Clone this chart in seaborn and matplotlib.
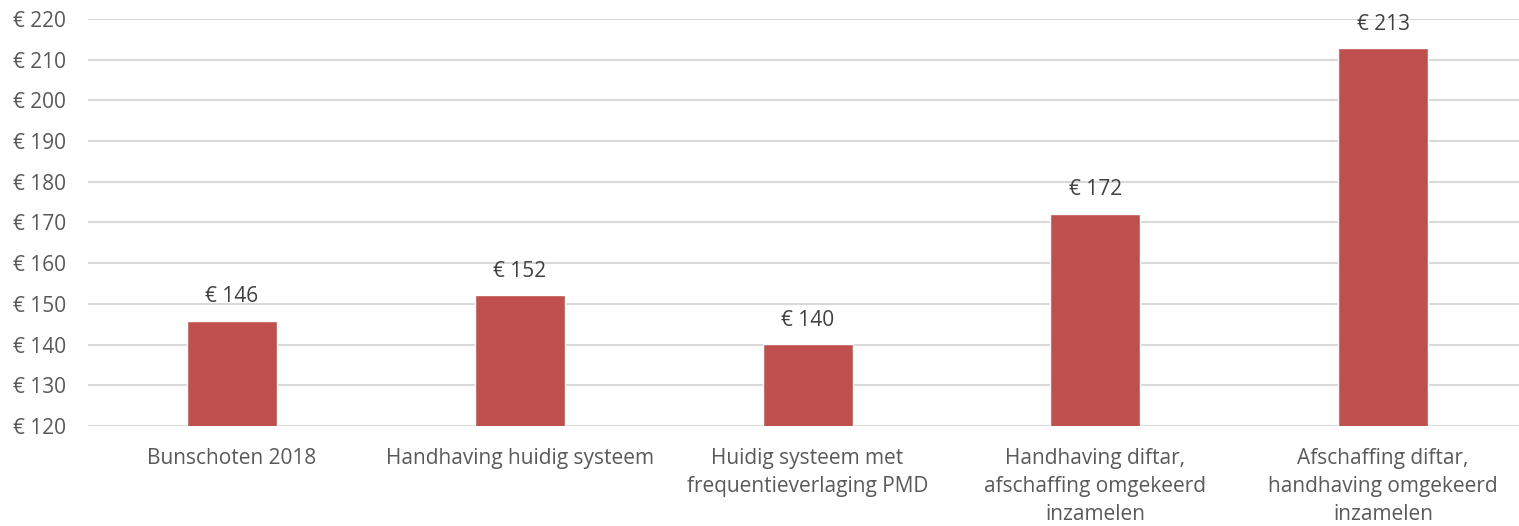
import matplotlib
matplotlib.use("Agg")
import matplotlib.pyplot as plt
import seaborn as sns
import pandas as pd

categories = [
    "Bunschoten 2018",
    "Handhaving huidig systeem",
    "Huidig systeem met\nfrequentieverlaging PMD",
    "Handhaving diftar,\nafschaffing omgekeerd\ninzamelen",
    "Afschaffing diftar,\nhandhaving omgekeerd\ninzamelen",
]
values = [145.9, 152.2, 140.2, 172.2, 212.8]
labels = ["€ 146", "€ 152", "€ 140", "€ 172", "€ 213"]
yticks = list(range(120, 221, 10))

sns.set_theme(style="white")
plt.rcParams['font.family'] = ['Open Sans', 'DejaVu Sans']

W, H = 1519, 526
fig = plt.figure(figsize=(W / 100, H / 100), dpi=100)
ax = fig.add_axes([88 / W, (H - 426) / H, 1439 / W, (426 - 19) / H])

df = pd.DataFrame({"cat": categories, "val": values})
sns.barplot(data=df, x="cat", y="val", color="#C0504D", saturation=1,
            width=90 / 287.8, ax=ax, zorder=3)

ax.set_ylim(120, 220)
ax.set_xlim(-0.5, 4.5)
ax.set_yticks(yticks)
ax.set_yticklabels([f"€ {t}" for t in yticks])
ax.yaxis.grid(True, color="#D9D9D9", linewidth=1.5, zorder=0)
ax.xaxis.grid(False)
for s in ax.spines.values():
    s.set_visible(False)
ax.set_xlabel("")
ax.set_ylabel("")
ax.tick_params(axis="both", length=0, labelsize=15, colors="#595959")
ax.tick_params(axis="y", pad=16)
ax.tick_params(axis="x", pad=16)
for lbl in ax.get_xticklabels():
    lbl.set_linespacing(1.42)

for i, (v, t) in enumerate(zip(values, labels)):
    ax.annotate(t, (i, v), xytext=(0, 9.5), textcoords="offset points",
                ha="center", va="bottom", fontsize=15, color="#404040",
                annotation_clip=False)

fig.savefig("out.png", dpi=100)
